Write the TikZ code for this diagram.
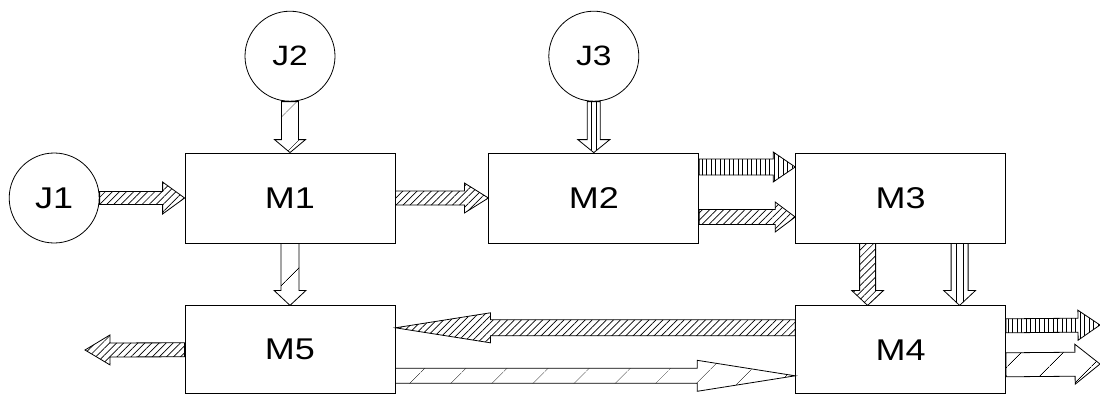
\documentclass[tikz,border=0pt]{standalone}
\usepackage{fontspec}
\setmainfont[FakeStretch=1.2]{Liberation Sans}
\usetikzlibrary{positioning,calc,patterns.meta}

% block arrow: style, from, to, shaft half width, head half width, head length
\newcommand{\barrow}[6]{%
  \path (#2) coordinate (bas) (#3) coordinate (bae);
  \path[#1] let \p1=($(bae)-(bas)$), \n1={veclen(\x1,\y1)}, \n2={atan2(\y1,\x1)} in
    [shift={(bas)},rotate=\n2] (0,#4) -- ({\n1-#6},#4) -- ({\n1-#6},#5) -- (\n1,0)
    -- ({\n1-#6},-#5) -- ({\n1-#6},-#4) -- (0,-#4) -- cycle;}
% same, with two lines along the shaft
\newcommand{\twinarrow}[6]{%
  \barrow{#1}{#2}{#3}{#4}{#5}{#6}
  \path[draw,line width=0.7pt] let \p1=($(bae)-(bas)$), \n1={veclen(\x1,\y1)}, \n2={atan2(\y1,\x1)} in
    [shift={(bas)},rotate=\n2] (0,{#4/2.6}) -- ({\n1-3},{#4/2.6}) (0,{-#4/2.6}) -- ({\n1-3},{-#4/2.6});}

\begin{document}
\begin{tikzpicture}[x=1pt,y=1pt,node distance=93pt]
  \tikzstyle{machine}=[draw,line width=0.8pt,minimum width=210pt,minimum height=90pt,font=\fontsize{30}{34}\selectfont]
  \tikzstyle{job}=[draw,circle,line width=0.8pt,minimum size=90pt,inner sep=0pt,font=\fontsize{28}{32}\selectfont]
  \tikzstyle{flow}=[draw,line width=0.8pt]
  \tikzstyle{plain}=[flow,fill=white]
  \tikzstyle{dense}=[flow,pattern={Lines[angle=45,distance=5pt,line width=0.7pt]}]
  \tikzstyle{sparse}=[flow,pattern={Lines[angle=45,distance=30pt,line width=0.7pt]}]
  \tikzstyle{ribbed}=[flow,pattern={Lines[angle=90,distance=4.5pt,line width=0.7pt]}]
  \useasboundingbox (0,0) rectangle (1100,-396);
  \node[machine] (M1) at (290,-198) {M1};
  \node[machine,right=of M1] (M2) {M2};
  \node[machine,right=96pt of M2] (M3) {M3};
  \node[machine,below=62pt of M1,minimum height=88pt] (M5) {M5};
  \node[machine,below=62pt of M3,minimum height=88pt] (M4) {M4};
  \node[job,left=85pt of M1,font=\fontsize{30}{34}\selectfont] (J1) {J1};
  \node[job,above=51pt of M1] (J2) {J2};
  \node[job,above=51pt of M2] (J3) {J3};
  \coordinate (outA) at (1100,-325);
  \coordinate (outB) at (1100,-364);
  \coordinate (outC) at (85,-350);
  % feeds
  \barrow{dense}{J1.east}{M1.west}{6.5}{16}{22}
  \barrow{sparse}{J2.south}{M1.north}{8.5}{15.5}{13}
  \twinarrow{plain}{J3.south}{M2.north}{6.5}{16}{13}
  % top row
  \barrow{dense}{M1.east}{M2.west}{7}{15}{24}
  \barrow{ribbed}{[yshift=31pt]M2.east}{[yshift=31pt]M3.west}{8}{15}{22}
  \barrow{dense}{[yshift=-19pt]M2.east}{[yshift=-19pt]M3.west}{7.5}{15}{20}
  % down
  \barrow{sparse}{M1.south}{M5.north}{9}{16}{15}
  \barrow{dense}{[xshift=-33pt]M3.south}{[xshift=-33pt]M4.north}{8}{16}{15}
  \twinarrow{plain}{[xshift=59pt]M3.south}{[xshift=59pt]M4.north}{8.5}{16}{15}
  % bottom row
  \barrow{dense}{[yshift=22pt]M4.west}{[yshift=22pt]M5.east}{8}{15}{95}
  \barrow{sparse}{[yshift=-26pt]M5.east}{[yshift=-26pt]M4.west}{7.5}{15.5}{98}
  \barrow{dense}{M5.west}{outC}{7}{15}{25}
  \barrow{ribbed}{[yshift=24pt]M4.east}{outA}{7}{15}{22}
  \barrow{sparse}{[yshift=-15pt]M4.east}{outB}{12}{20}{25}
\end{tikzpicture}
\end{document}
